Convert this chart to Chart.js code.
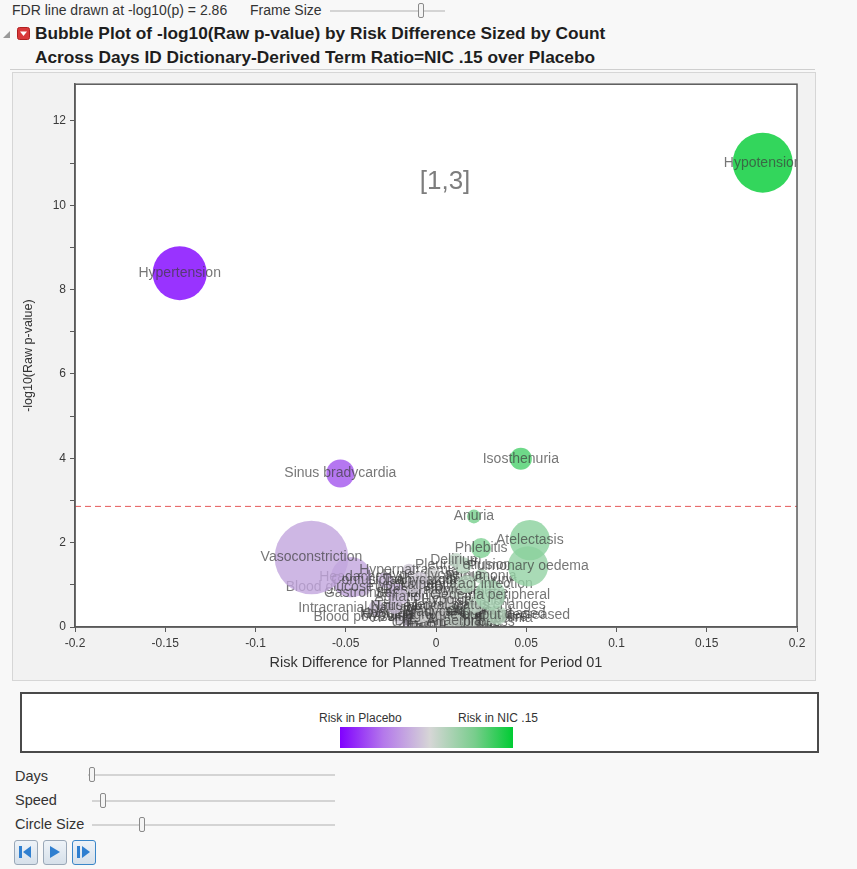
<!DOCTYPE html>
<html>
<head>
<meta charset="utf-8">
<title>Bubble Plot of -log10(Raw p-value) by Risk Difference</title>
<script src="https://cdn.jsdelivr.net/npm/chart.js@4.4.1/dist/chart.umd.min.js"></script>
<style>
  html, body { margin: 0; padding: 0; width: 857px; height: 869px; overflow: hidden;
    background: #f8f8f8; font-family: "Liberation Sans", Arial, sans-serif; color: #222; }
  #page { position: relative; width: 857px; height: 869px; }
  .abs { position: absolute; white-space: nowrap; }
  .hdr { font-size: 14px; color: #333; }
  .ctl { font-size: 14.5px; color: #333; }
  .track { position: absolute; height: 2px; background: #d4d4d4; }
  .thumb { position: absolute; width: 4px; height: 13px; background: #f4f4f4;
    border: 1px solid #8a8a8a; border-radius: 2px; }
  .title { font-size: 17.3px; font-weight: bold; color: #1e1e1e; }
  #panel { position: absolute; left: 12px; top: 72px; width: 802px; height: 607px;
    background: #f2f2f2; border: 1px solid #d6d6d6; }
  #chart { position: absolute; left: 0; top: 0; }
  #legendBox { position: absolute; left: 20px; top: 692px; width: 795px; height: 57px;
    background: #fff; border: 2px solid #4a4a4a; box-sizing: content-box; }
  .legTxt { font-size: 12px; color: #333; }
  #ramp { position: absolute; left: 318px; top: 33px; width: 173px; height: 21px;
    background: linear-gradient(to right, rgb(128,0,255) 0%, rgb(180,120,235) 25%,
      rgb(214,214,214) 52%, rgb(120,205,140) 78%, rgb(0,204,51) 100%); }
  .btn { position: absolute; top: 840px; width: 22px; height: 23px; border: 1px solid #9aa8b8;
    border-radius: 3px; background: linear-gradient(#eef3f8, #d6e0ea); }
  .btn.on { border: 1px solid #3a86c8; }
  .btn svg { position: absolute; left: 3px; top: 3px; }
</style>
</head>
<body>
<div id="page">
  <!-- header controls -->
  <div class="abs hdr" style="left:12px; top:2px;">FDR line drawn at -log10(p) = 2.86</div>
  <div class="abs hdr" style="left:250px; top:2px;">Frame Size</div>
  <div class="track" style="left:330px; top:10px; width:115px;"></div>
  <div class="thumb" style="left:418px; top:3px;"></div>

  <svg class="abs" style="left:2px; top:30px;" width="9" height="9">
    <polygon points="8,1 8,8 1,8" fill="#9a9a9a"/>
  </svg>
  <svg class="abs" style="left:17px; top:27px;" width="13" height="13">
    <rect x="0.5" y="0.5" width="12" height="12" rx="2" fill="#d8383a" stroke="#b02020"/>
    <polygon points="3,4.5 10,4.5 6.5,9" fill="#fff"/>
  </svg>
  <div class="abs title" style="left:35px; top:23px;">Bubble Plot of -log10(Raw p-value) by Risk Difference Sized by Count</div>
  <div class="abs title" style="left:35px; top:47px;">Across Days ID Dictionary-Derived Term Ratio=NIC .15 over Placebo</div>
  <div class="abs" style="left:10px; top:69px; width:805px; height:1px; background:#cfcfcf;"></div>

  <div id="panel"><canvas id="chart" width="802" height="607"></canvas></div>

  <!-- colour legend -->
  <div id="legendBox">
    <div class="abs legTxt" style="left:297px; top:17px;">Risk in Placebo</div>
    <div class="abs legTxt" style="left:436px; top:17px;">Risk in NIC .15</div>
    <div id="ramp"></div>
  </div>

  <!-- animation controls -->
  <div class="abs ctl" style="left:15px; top:768px;">Days</div>
  <div class="track" style="left:88px; top:774px; width:247px;"></div>
  <div class="thumb" style="left:89px; top:767px;"></div>
  <div class="abs ctl" style="left:15px; top:792px;">Speed</div>
  <div class="track" style="left:92px; top:800px; width:243px;"></div>
  <div class="thumb" style="left:100px; top:793px;"></div>
  <div class="abs ctl" style="left:15px; top:816px;">Circle Size</div>
  <div class="track" style="left:92px; top:824px; width:243px;"></div>
  <div class="thumb" style="left:139px; top:817px;"></div>

  <div class="btn" style="left:14px;"><svg width="16" height="16"><rect x="1" y="2" width="3" height="12" fill="#2f7fd0"/><polygon points="13,2 13,14 5,8" fill="#2f7fd0"/></svg></div>
  <div class="btn" style="left:43px;"><svg width="16" height="16"><polygon points="3,2 3,14 13,8" fill="#2f7fd0"/></svg></div>
  <div class="btn on" style="left:72px;"><svg width="16" height="16"><rect x="1" y="2" width="3" height="12" fill="#2f7fd0"/><polygon points="6,2 6,14 14,8" fill="#2f7fd0"/></svg></div>
</div>

<script>
// Adverse-event terms with their risk difference, -log10(raw p), count and colour position
const terms = [
  "Hypertension", "Hypotension", "Sinus bradycardia", "Isosthenuria", "Anuria",
  "Atelectasis", "Phlebitis", "Vasoconstriction", "Pulmonary oedema", "Delirium",
  "Pleural effusion", "Urinary tract infection", "Oedema peripheral", "Mental status changes",
  "Urine output decreased", "Tachycardia", "Hyperglycaemia", "Pyrexia", "Hypoxia",
  "Agitation", "Oliguria", "Bradycardia", "Hypokalaemia", "Anaemia", "Thrombocytopenia",
  "Constipation", "Nausea", "Pneumonia", "Respiratory failure", "Hypomagnesaemia",
  "Acute kidney injury", "Confusional state", "Dyspnoea", "Haematuria", "Renal failure",
  "Hypernatraemia", "Insomnia", "Cough", "Fall", "Atrial fibrillation",
  "Hypocalcaemia", "Hyponatraemia", "Pruritus", "Rash", "Tremor", "Diarrhoea",
  "Dizziness", "Back pain", "Chills", "Hypophosphataemia", "Oxygen saturation decreased",
  "Haemoglobin decreased",
  "Sepsis", "Gastrointestinal haemorrhage", "Intracranial haemorrhage",
  "Blood potassium decreased", "Vomiting", "Blood glucose increased", "Headache"
];
const riskDiff = [
  -0.142, 0.181, -0.053, 0.047, 0.021,
  0.052, 0.025, -0.069, 0.051, 0.011,
  0.015, 0.017, 0.030, 0.022,
  0.034, -0.009, -0.002, 0.012, 0.006,
  -0.019, 0.019, 0.002, -0.013, 0.010, -0.002,
  0.019, -0.023, 0.025, 0.002, -0.008,
  0.010, -0.028, 0.019, 0.005, 0.029,
  -0.015, -0.003, 0.024, -0.010, 0.009,
  0.008, 0.014, 0.020, 0.004, 0.016, -0.006,
  0.027, 0.012, -0.015, 0.018, 0.010,
  0.000,
  -0.022, -0.011, -0.033,
  -0.020, -0.013, -0.041, -0.047
];
const negLog10P = [
  8.39, 11.01, 3.64, 3.99, 2.62,
  2.06, 1.87, 1.65, 1.44, 1.58,
  1.46, 1.02, 0.76, 0.52,
  0.28, 1.11, 1.23, 0.87, 0.64,
  0.71, 0.38, 0.35, 0.99, 0.14, 0.50,
  0.61, 0.50, 1.20, 0.87, 0.28,
  1.11, 1.11, 0.12, 0.09, 0.24,
  1.35, 0.07, 0.05, 0.07, 0.40,
  0.18, 0.30, 0.10, 0.22, 0.05, 0.15,
  0.12, 0.06, 0.10, 0.20, 0.30,
  0.33,
  0.80, 0.80, 0.45,
  0.24, 0.24, 0.94, 1.18
];
const counts = [
  108, 133, 29, 18, 7,
  60, 15, 200, 60, 8,
  10, 12, 35, 9,
  14, 10, 8, 9, 8,
  7, 6, 7, 9, 11, 8,
  7, 9, 8, 9, 8,
  7, 9, 9, 10, 7,
  6, 12, 8, 9, 8,
  9, 8, 7, 10, 6, 11,
  8, 7, 6, 9, 10,
  8,
  14, 10, 9,
  8, 10, 12, 60
];
// -1 = risk in Placebo, 0 = neutral, +1 = risk in NIC .15
const shade = [
  -1.0, 1.0, -0.6, 0.65, 0.45,
  0.35, 0.4, -0.22, 0.3, 0.1,
  0.15, 0.15, 0.22, 0.1,
  0.15, -0.05, 0.0, 0.05, 0.0,
  -0.1, 0.1, 0.0, -0.05, 0.05, 0.0,
  0.05, -0.1, 0.15, 0.0, 0.0,
  0.05, -0.15, 0.05, 0.0, 0.1,
  -0.05, 0.0, 0.05, 0.0, 0.05,
  0.05, 0.1, 0.1, 0.0, 0.1, -0.05,
  0.15, 0.05, -0.1, 0.1, 0.05,
  0.0,
  -0.15, -0.05, -0.1,
  -0.05, -0.05, -0.15, -0.22
];
const xTickValues = [-0.2, -0.15, -0.1, -0.05, 0, 0.05, 0.1, 0.15, 0.2];
const yTickValues = [0, 2, 4, 6, 8, 10, 12];
const fdrThreshold = 2.86;
const frameLabel = "[1,3]";

const placeboRGB = [128, 0, 255];
const neutralRGB = [212, 212, 212];
const nicRGB = [0, 204, 51];

function shadeColour(s, alpha) {
  const end = s < 0 ? placeboRGB : nicRGB;
  const t = Math.abs(s);
  const c = neutralRGB.map((v, k) => Math.round(v + (end[k] - v) * t));
  return `rgba(${c[0]},${c[1]},${c[2]},${alpha})`;
}

// one dataset per term so each label is painted right after its own bubble
const datasets = terms.map((name, i) => ({
  label: name,
  data: [{ x: riskDiff[i], y: negLog10P[i], r: 2.6 * Math.sqrt(counts[i]) }],
  backgroundColor: shadeColour(shade[i], 0.8),
  borderWidth: 0,
  hoverRadius: 0
}));

const FONT_FAMILY = '"Liberation Sans", Arial, sans-serif';
const LABEL_FONT = '14px ' + FONT_FAMILY;

const bubbleLabels = {
  id: 'bubbleLabels',
  beforeDatasetsDraw(chart) {
    const { ctx, chartArea: a, scales } = chart;
    ctx.save();
    // reference line for the FDR threshold
    const yy = scales.y.getPixelForValue(fdrThreshold);
    ctx.strokeStyle = 'rgba(226,70,70,0.9)';
    ctx.lineWidth = 1;
    ctx.setLineDash([6, 4]);
    ctx.beginPath();
    ctx.moveTo(a.left, yy);
    ctx.lineTo(a.right, yy);
    ctx.stroke();
    ctx.setLineDash([]);
    // frame indicator
    ctx.font = '26px ' + FONT_FAMILY;
    ctx.fillStyle = '#7d7d7d';
    ctx.textAlign = 'center';
    ctx.textBaseline = 'middle';
    ctx.fillText(frameLabel, scales.x.getPixelForValue(0.005), scales.y.getPixelForValue(10.56));
    ctx.restore();
  },
  afterDatasetDraw(chart, args) {
    const { ctx, chartArea: a } = chart;
    const el = args.meta.data[0];
    if (!el) return;
    ctx.save();
    ctx.beginPath();
    ctx.rect(a.left, a.top, a.width, a.height);
    ctx.clip();
    ctx.font = LABEL_FONT;
    ctx.fillStyle = 'rgba(60,60,60,0.7)';
    ctx.textAlign = 'center';
    ctx.textBaseline = 'middle';
    ctx.fillText(terms[args.index], el.x, el.y);
    ctx.restore();
  },
  afterDraw(chart) {
    const { ctx, chartArea: a } = chart;
    ctx.save();
    ctx.strokeStyle = '#5a5a5a';
    ctx.lineWidth = 1.5;
    ctx.strokeRect(a.left, a.top, a.width, a.height);
    ctx.restore();
  }
};

const whiteArea = {
  id: 'whiteArea',
  beforeDraw(chart) {
    const { ctx, chartArea: a } = chart;
    ctx.save();
    ctx.fillStyle = '#ffffff';
    ctx.fillRect(a.left, a.top, a.width, a.height);
    ctx.restore();
  }
};

const axisColour = '#5a5a5a';

new Chart(document.getElementById('chart'), {
  type: 'bubble',
  data: { datasets },
  options: {
    responsive: false,
    animation: false,
    events: [],
    layout: { autoPadding: false, padding: { left: 0, top: 9, right: 18, bottom: 0 } },
    plugins: { legend: { display: false }, tooltip: { enabled: false } },
    scales: {
      x: {
        type: 'linear', min: -0.2, max: 0.2,
        afterFit(scale) { scale.height = 53; },
        ticks: {
          stepSize: 0.05, includeBounds: false, padding: 4,
          color: '#3a3a3a', font: { size: 12, family: FONT_FAMILY },
          callback(v) {
            const hit = xTickValues.find(t => Math.abs(t - v) < 1e-9);
            return hit === undefined ? '' : String(hit);
          }
        },
        grid: { drawOnChartArea: false, drawTicks: true, tickLength: 5, color: axisColour, lineWidth: 1 },
        border: { display: true, color: axisColour, width: 1.5 },
        title: {
          display: true, text: 'Risk Difference for Planned Treatment for Period 01',
          color: '#333', font: { size: 14.5, family: FONT_FAMILY },
          padding: { top: 0, bottom: 8 }
        }
      },
      y: {
        type: 'linear', min: 0, max: 12.87,
        afterFit(scale) { scale.width = 62; },
        ticks: {
          stepSize: 1, includeBounds: false, padding: 4,
          color: '#3a3a3a', font: { size: 12, family: FONT_FAMILY },
          callback(v) {
            const hit = yTickValues.find(t => Math.abs(t - v) < 1e-9);
            return hit === undefined ? '' : String(hit);
          }
        },
        grid: { drawOnChartArea: false, drawTicks: true, tickLength: 5, color: axisColour, lineWidth: 1 },
        border: { display: true, color: axisColour, width: 1.5 },
        title: {
          display: true, text: '-log10(Raw p-value)',
          color: '#333', font: { size: 12.5, family: FONT_FAMILY },
          padding: { top: 8, bottom: 0 }
        }
      }
    }
  },
  plugins: [whiteArea, bubbleLabels]
});
</script>
</body>
</html>
